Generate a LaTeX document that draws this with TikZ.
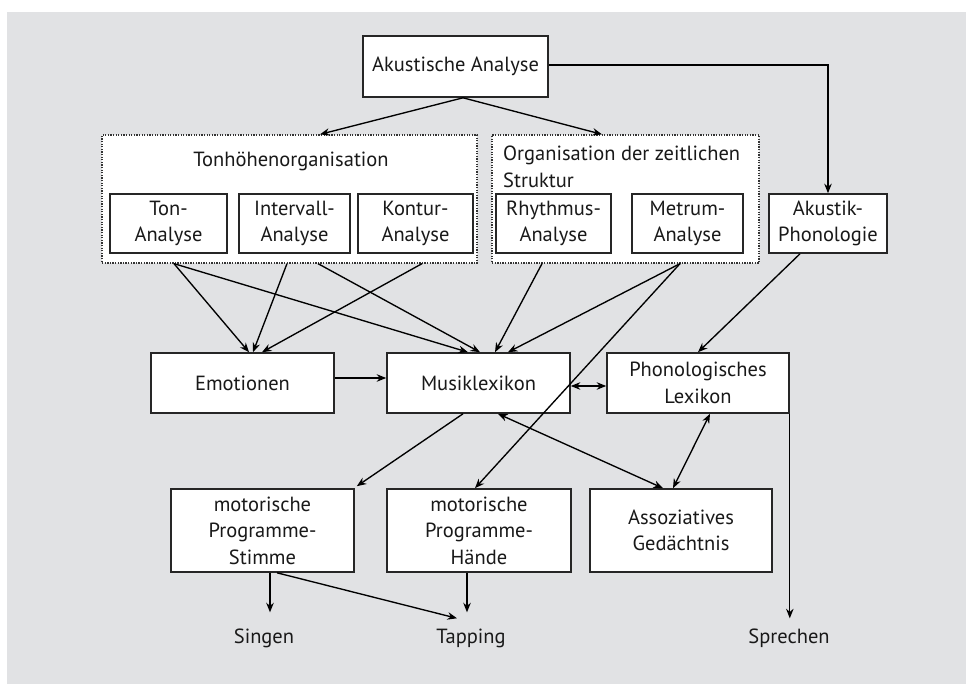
\documentclass[tikz,border=0pt]{standalone}
\usepackage{fontspec}
\setmainfont{PT Sans}
\usetikzlibrary{arrows.meta,calc}
\definecolor{bg}{RGB}{225,226,228}
\begin{document}
\begin{tikzpicture}[x=1pt,y=-1pt,
  lbl/.style={font=\fontsize{20.5}{26.5}\selectfont, text=black!90},
  box/.style={lbl, draw=black!85, line width=1.6pt, fill=white, inner sep=0pt, align=center},
  grp/.style={draw=black!80, line width=1.3pt, dash pattern=on 1.3pt off 1.3pt, fill=white, inner sep=0pt},
  tip/.tip={Stealth[length=9.5pt,width=7.5pt]},
  arr/.style={line width=1.35pt, -tip},
  darr/.style={line width=1.35pt, tip-tip},
  outp/.style={lbl, inner xsep=2pt, inner ysep=11pt, text height=14pt, text depth=5pt}
]
\useasboundingbox (0,0) rectangle (966,684);
\fill[white] (0,0) rectangle (966,684);
\fill[bg] (7,12) rectangle (966,684);

% top
\node[box, minimum width=185pt, minimum height=61pt] (aa) at (455.5,66.5) {Akustische Analyse};

% groups
\node[grp, minimum width=375pt, minimum height=128pt] (tonh) at (289.5,199) {};
\node[grp, minimum width=267pt, minimum height=128pt] (zeit) at (625.5,199) {};
\node[lbl, anchor=base] (tonhlab) at (291,167) {Tonhöhenorganisation};
\node[lbl, anchor=base west, inner sep=0pt] (zeitlab1) at (503,161) {Organisation der zeitlichen};
\node[lbl, anchor=base west, inner sep=0pt] (zeitlab2) at (503,188) {Struktur};

% analysis boxes
\node[box, minimum width=117pt, minimum height=59pt] (ton) at (168.5,223.5) {Ton-\\Analyse};
\node[box, minimum width=111pt, minimum height=59pt] (intv) at (294.5,223.5) {Intervall-\\Analyse};
\node[box, minimum width=115pt, minimum height=59pt] (kont) at (415.5,223.5) {Kontur-\\Analyse};
\node[box, minimum width=115pt, minimum height=59pt] (rhy) at (553.5,223.5) {Rhythmus-\\Analyse};
\node[box, minimum width=111pt, minimum height=59pt] (met) at (687.5,223.5) {Metrum-\\Analyse};
\node[box, minimum width=118pt, minimum height=59pt] (akph) at (828,223.5) {Akustik-\\Phonologie};

% middle row
\node[box, minimum width=183pt, minimum height=60pt] (emo) at (242.5,383) {Emotionen};
\node[box, minimum width=183pt, minimum height=60pt] (mus) at (478.5,383) {Musiklexikon};
\node[box, minimum width=182pt, minimum height=60pt] (phon) at (698,383) {Phonologisches\\Lexikon};

% bottom row
\node[box, minimum width=183pt, minimum height=83pt] (stim) at (262.5,530.5) {motorische\\Programme-\\Stimme};
\node[box, minimum width=184pt, minimum height=83pt] (haen) at (479,530.5) {motorische\\Programme-\\Hände};
\node[box, minimum width=182pt, minimum height=83pt] (asso) at (681,530.5) {Assoziatives\\Gedächtnis};

% outputs
\node[outp] (sing) at (264,639) {Singen};
\node[outp] (tapp) at (471,639) {Tapping};
\node[outp] (spre) at (789,639) {Sprechen};

% connectors from top
\draw[arr] ([xshift=7.5pt]aa.south) -- ([xshift=30.5pt]tonh.north);
\draw[arr] ([xshift=7.5pt]aa.south) -- ([xshift=-23.5pt]zeit.north);
\draw[arr] ([yshift=1.5pt]aa.east) -| (akph.north);

% analysis to middle
\draw[arr] ([xshift=-115.5pt]tonh.south) -- ([xshift=6.5pt]emo.north);
\draw[arr] ([xshift=-115.5pt]tonh.south) -- ([xshift=-10.5pt]mus.north);
\draw[arr] ([xshift=-2.5pt]tonh.south) -- ([xshift=10.5pt]emo.north);
\draw[arr] ([xshift=28.5pt]tonh.south) -- ([xshift=1.5pt]mus.north);
\draw[arr] ([xshift=132.5pt]tonh.south) -- ([xshift=19.5pt]emo.north);
\draw[arr] ([xshift=-83.5pt]zeit.south) -- ([xshift=16.5pt]mus.north);
\draw[arr] ([xshift=54.5pt]zeit.south) -- ([xshift=29.5pt]mus.north);
\draw[arr] ([xshift=54.5pt]zeit.south) -- ([xshift=-4pt]haen.north);
\draw[arr] ([xshift=-28pt]akph.south) -- (phon.north);

% middle row
\draw[arr] ([yshift=5pt]emo.east) -- ([yshift=5pt]emo.east -| mus.west);
\draw[darr] ([yshift=-3pt]mus.east) -- ([yshift=-3pt]mus.east -| phon.west);
\draw[arr] ([xshift=-15.5pt]mus.south) -- ([xshift=2pt,yshift=2pt]stim.north east);
\draw[darr] ([xshift=19.5pt]mus.south) -- ([xshift=-18pt]asso.north);
\draw[darr] ([xshift=12pt]phon.south) -- ([xshift=-8pt]asso.north);
\draw[arr] (phon.south east) -- (phon.south east |- spre.north);

% bottom
\draw[arr] ([xshift=7.5pt]stim.south) -- ([xshift=7.5pt,yshift=6pt]stim.south |- sing.north);
\draw[arr] ([xshift=14.5pt]stim.south) -- ($(tapp.north)+(-14,0)$);
\draw[arr] ([xshift=-12pt]haen.south) -- ([xshift=-12pt,yshift=6pt]haen.south |- tapp.north);
\end{tikzpicture}
\end{document}
